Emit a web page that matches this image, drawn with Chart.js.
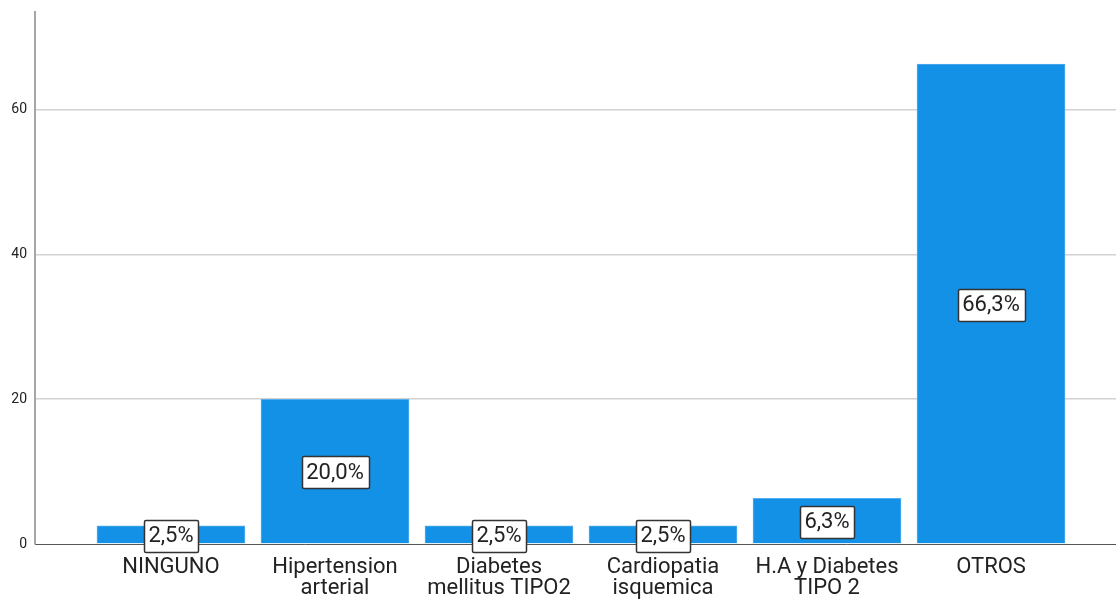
<!DOCTYPE html>
<html>
<head>
<meta charset="utf-8">
<script src="https://cdn.jsdelivr.net/npm/chart.js@4/dist/chart.umd.min.js"></script>
<style>
  html, body { margin: 0; padding: 0; background: #fff; }
  #wrap { width: 1116px; height: 599px; }
</style>
</head>
<body>
<div id="wrap"><canvas id="c" width="1116" height="599"></canvas></div>
<script>
const categories = [
  ["NINGUNO"],
  ["Hipertension", "arterial"],
  ["Diabetes", "mellitus TIPO2"],
  ["Cardiopatia", "isquemica"],
  ["H.A y Diabetes", "TIPO 2"],
  ["OTROS"]
];
const percentValues = [2.5, 20.0, 2.5, 2.5, 6.3, 66.3];
const percentLabels = ["2,5%", "20,0%", "2,5%", "2,5%", "6,3%", "66,3%"];
const yTickValues = [0, 20, 40, 60];

const barData = percentValues.map((v, i) => ({ x: i, y: v }));

const labelPlugin = {
  id: 'boxLabels',
  afterDatasetsDraw(chart) {
    const ctx = chart.ctx;
    const meta = chart.getDatasetMeta(0);
    ctx.save();
    ctx.font = '22px Roboto';
    ctx.textAlign = 'center';
    ctx.textBaseline = 'middle';
    meta.data.forEach((bar, i) => {
      const p = bar.getProps(['x', 'y', 'base'], true);
      const cx = p.x;
      const cy = (p.y + p.base) / 2 + 1;
      const txt = percentLabels[i];
      const w = ctx.measureText(txt).width + 9;
      const h = 32;
      ctx.fillStyle = '#ffffff';
      ctx.strokeStyle = '#333333';
      ctx.lineWidth = 1.5;
      ctx.beginPath();
      ctx.roundRect(Math.round(cx - w / 2) + 0.5, Math.round(cy - h / 2) + 0.5, Math.round(w), h, 1.5);
      ctx.fill();
      ctx.stroke();
      ctx.fillStyle = '#222222';
      ctx.fillText(txt, cx, cy + 1);
    });
    ctx.restore();
  }
};

new Chart(document.getElementById('c'), {
  type: 'bar',
  data: {
    datasets: [{
      data: barData,
      backgroundColor: '#1391e6',
      borderColor: '#56aeee',
      borderWidth: 1,
      barThickness: 148
    }]
  },
  plugins: [labelPlugin],
  options: {
    responsive: false,
    animation: false,
    layout: { padding: { top: 12, left: 0, right: 0, bottom: 0 } },
    plugins: { legend: { display: false }, tooltip: { enabled: false } },
    scales: {
      x: {
        type: 'linear',
        offset: false,
        min: -0.829,
        max: 5.762,
        grid: { display: false, drawTicks: false, offset: false },
        border: { display: true, color: '#555555', width: 1 },
        afterBuildTicks(scale) {
          scale.ticks = categories.map((c, i) => ({ value: i }));
        },
        afterFit(scale) {
          scale.height = 55;
          scale.paddingLeft = 0;
          scale.paddingRight = 0;
        },
        ticks: {
          autoSkip: false,
          maxRotation: 0,
          minRotation: 0,
          padding: 13,
          color: '#222222',
          font: { family: 'Roboto', size: 22, lineHeight: 0.96 },
          callback: (v) => categories[v] || ''
        }
      },
      y: {
        min: 0,
        max: 73.5,
        afterBuildTicks(scale) {
          scale.ticks = yTickValues.map(v => ({ value: v }));
        },
        afterFit(scale) {
          scale.width = 35;
          scale.paddingTop = 0;
          scale.paddingBottom = 0;
        },
        grid: {
          drawTicks: false,
          color: (ctx) => ctx.tick && ctx.tick.value === 0 ? 'rgba(0,0,0,0)' : '#d2d2d2',
          lineWidth: 1.5
        },
        border: { display: true, color: '#a6a6a6', width: 2 },
        ticks: {
          padding: 8,
          color: '#222222',
          font: { family: 'Roboto', size: 14 }
        }
      }
    }
  }
});
</script>
</body>
</html>
